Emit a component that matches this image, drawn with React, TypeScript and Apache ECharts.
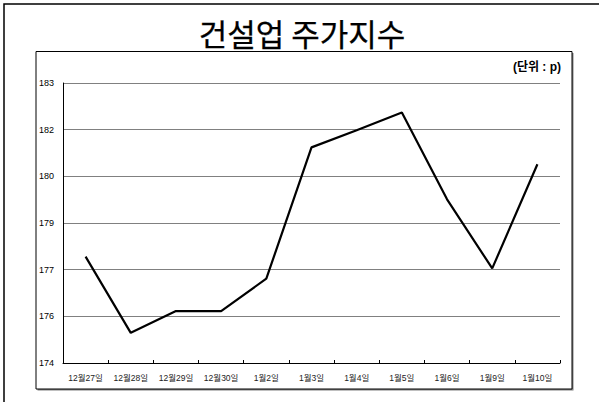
import React, { useEffect, useRef } from "react";
import * as echarts from "echarts";

const categories = ["12월27일", "12월28일", "12월29일", "12월30일", "1월2일", "1월3일", "1월4일", "1월5일", "1월6일", "1월9일", "1월10일"];
const values = [177.42, 174.97, 175.67, 175.67, 176.71, 180.93, 181.48, 182.05, 179.26, 177.04, 180.39];
const yMin = 174;
const yMax = 183;
const yStep = 1.5;
const titleText = "건설업 주가지수";
const unitText = "(단위 : p)";

export default function App() {
  const ref = useRef<HTMLDivElement>(null);
  useEffect(() => {
    if (!ref.current) return;
    const chart = echarts.init(ref.current, undefined, { renderer: "svg" });
    chart.setOption({
      animation: false,
      backgroundColor: "#fff",
      grid: { left: 63, right: 39, top: 83, bottom: 39, show: true, borderColor: "#808080", borderWidth: 1 },
      graphic: [
        { type: "rect", shape: { x: 4, y: 4, width: 640, height: 440 }, style: { fill: "none", stroke: "#000", lineWidth: 1.5 }, z: 0 },
        { type: "rect", shape: { x: 37.5, y: 53, width: 536, height: 337.5 }, style: { fill: "#808080" }, z: 0 },
        { type: "rect", shape: { x: 36, y: 51.5, width: 536, height: 337.5 }, style: { fill: "#fff", stroke: "#000", lineWidth: 1 }, z: 0 },
        {
          type: "text", x: 302, y: 32, z: 10,
          style: { text: titleText, fill: "#000", stroke: "#000", lineWidth: 0.25, font: "normal 31px 'Noto Sans CJK KR'", textAlign: "center", textVerticalAlign: "middle" },
        },
        {
          type: "text", x: 561, y: 67, z: 10,
          style: { text: unitText, fill: "#000", font: "bold 12px 'Liberation Sans', 'Noto Sans CJK KR'", textAlign: "right", textVerticalAlign: "middle" },
        },
      ],
      xAxis: {
        type: "category",
        data: categories,
        boundaryGap: true,
        axisLine: { lineStyle: { color: "#000", width: 1 } },
        axisTick: { show: true, inside: true, length: 3, lineStyle: { color: "#000" } },
        axisLabel: { color: "#222", fontSize: 8.5, fontFamily: "'Liberation Sans', 'Noto Sans CJK KR'", margin: 11, interval: 0 },
        splitLine: { show: false },
      },
      yAxis: {
        type: "value",
        min: yMin,
        max: yMax,
        interval: yStep,
        axisLine: { show: true, lineStyle: { color: "#000", width: 1 } },
        axisTick: { show: false },
        axisLabel: {
          color: "#000", fontSize: 9, fontFamily: "'Liberation Sans'", align: "left", margin: 24,
          formatter: (v: number) => String(Math.round(v)),
        },
        splitLine: { show: true, lineStyle: { color: "#808080", width: 1 } },
      },
      series: [
        {
          type: "line",
          data: values,
          showSymbol: false,
          symbol: "none",
          lineStyle: { color: "#000", width: 2.2 },
          z: 5,
        },
      ],
    });
    return () => chart.dispose();
  }, []);
  return <div ref={ref} style={{ position: "fixed", left: 0, top: 0, width: 599, height: 402 }} />;
}
